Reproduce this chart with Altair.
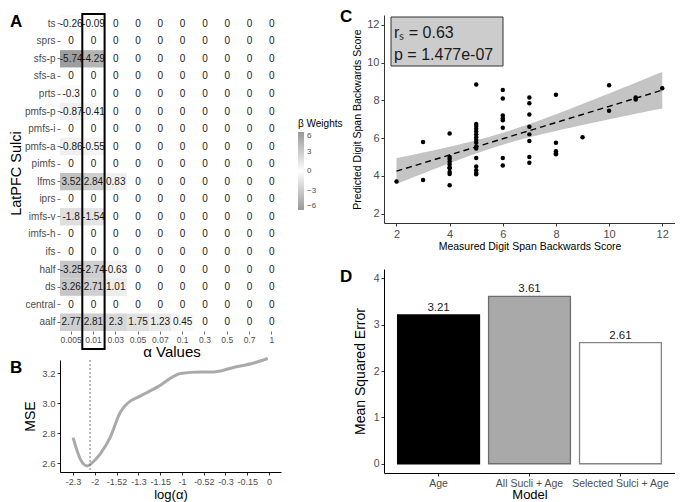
import json
import altair as alt
import numpy as np
import pandas as pd

FONT = "Liberation Sans"
GRAY_TXT = "#4d4d4d"

# ---------------- Panel A data ----------------
alpha_values = ["0.005", "0.01", "0.03", "0.05", "0.07", "0.1", "0.3", "0.5", "0.7", "1"]
selected_alpha = "0.01"
sulci = ["ts", "sprs", "sfs-p", "sfs-a", "prts", "pmfs-p", "pmfs-i", "pmfs-a", "pimfs",
         "lfms", "iprs", "imfs-v", "imfs-h", "ifs", "half", "ds", "central", "aalf"]
beta_rows = [
    [-0.26, -0.09, 0, 0, 0, 0, 0, 0, 0, 0],
    [0, 0, 0, 0, 0, 0, 0, 0, 0, 0],
    [-5.74, -4.29, 0, 0, 0, 0, 0, 0, 0, 0],
    [0, 0, 0, 0, 0, 0, 0, 0, 0, 0],
    [-0.3, 0, 0, 0, 0, 0, 0, 0, 0, 0],
    [-0.87, -0.41, 0, 0, 0, 0, 0, 0, 0, 0],
    [0, 0, 0, 0, 0, 0, 0, 0, 0, 0],
    [-0.86, -0.55, 0, 0, 0, 0, 0, 0, 0, 0],
    [0, 0, 0, 0, 0, 0, 0, 0, 0, 0],
    [3.52, 2.84, 0.83, 0, 0, 0, 0, 0, 0, 0],
    [0, 0, 0, 0, 0, 0, 0, 0, 0, 0],
    [-1.8, -1.54, 0, 0, 0, 0, 0, 0, 0, 0],
    [0, 0, 0, 0, 0, 0, 0, 0, 0, 0],
    [0, 0, 0, 0, 0, 0, 0, 0, 0, 0],
    [-3.25, -2.74, -0.63, 0, 0, 0, 0, 0, 0, 0],
    [3.26, 2.71, 1.01, 0, 0, 0, 0, 0, 0, 0],
    [0, 0, 0, 0, 0, 0, 0, 0, 0, 0],
    [2.77, 2.81, 2.3, 1.75, 1.23, 0.45, 0, 0, 0, 0],
]

# ---------------- Panel B data ----------------
log_alpha_labels = ["-2.3", "-2", "-1.52", "-1.3", "-1.15", "-1", "-0.52", "-0.3", "-0.15", "0"]
cv_position = [0.0, 0.32, 0.66, 0.86, 1.24, 1.7, 2.17, 2.5, 3.1, 4.0, 4.5, 4.93, 5.85, 6.45, 7.37, 8.3, 8.94]
cv_mse = [2.77, 2.63, 2.58, 2.60, 2.66, 2.77, 2.94, 3.00, 3.05, 3.12, 3.17, 3.20, 3.21, 3.21, 3.24, 3.27, 3.30]
best_position = [0.78]

# ---------------- Panel C data ----------------
measured = [2, 3, 3,
            4, 4, 4, 4, 4, 4, 4, 4, 4, 4,
            5, 5, 5, 5, 5, 5, 5, 5, 5, 5, 5, 5, 5, 5, 5, 5,
            6, 6, 6, 6, 6, 6, 6, 6,
            7, 7, 7, 7, 7, 7, 7, 7,
            8, 8, 8, 8, 8,
            9, 10, 10, 11, 11, 12]
predicted = [3.7, 5.8, 3.78,
             6.25, 5.0, 4.9, 4.75, 4.6, 4.45, 4.4, 4.2, 4.1, 3.5,
             8.85, 6.75, 6.65, 6.5, 6.35, 6.2, 6.05, 5.9, 5.75, 5.55, 5.45, 4.95, 4.5, 4.3, 4.15, 4.08,
             8.55, 8.1, 7.2, 7.05, 6.95, 6.55, 4.95, 4.55,
             8.15, 7.85, 7.25, 6.6, 6.2, 5.85, 5.0, 4.7,
             8.3, 5.75, 5.3, 5.2, 5.15,
             6.05, 8.8, 7.45, 8.15, 8.05, 8.65]
stat_lines = ["rₛ = 0.63", "p = 1.477e-07"]

# ---------------- Panel D data ----------------
models = ["Age", "All Sucli + Age", "Selected Sulci + Age"]
model_mse = [3.21, 3.61, 2.61]
model_fill = ["#000000", "#a9a9a9", "#ffffff"]
model_stroke = ["#000000", "#6e6e6e", "#858585"]


def letter(ch, x, y, baseline="top"):
    return alt.Chart(pd.DataFrame({"t": [ch]})).mark_text(
        fontSize=17, fontWeight="bold", align="left", baseline=baseline, color="black"
    ).encode(text="t:N", x=alt.value(x), y=alt.value(y))


# ================= Panel A =================
rows = []
for s, vals in zip(sulci, beta_rows):
    for a, v in zip(alpha_values, vals):
        rows.append({"sulcus": s, "alpha": a, "beta": v, "label": f"{v:g}"})
dfA = pd.DataFrame(rows)

xA = alt.X("alpha:O", sort=alpha_values, title="α Values",
           axis=alt.Axis(labelAngle=0, labelFontSize=8.5, labelColor=GRAY_TXT, domain=False,
                         tickSize=3, tickColor="#777777", titleFontSize=15, titlePadding=1,
                         labelPadding=1))
yA = alt.Y("sulcus:O", sort=sulci, title="LatPFC Sulci",
           axis=alt.Axis(labelFontSize=10, labelColor=GRAY_TXT, domain=False, tickSize=3,
                         tickColor="#777777", titleFontSize=14.5, labelPadding=2, titlePadding=1))

heat = alt.Chart(dfA).mark_rect().encode(
    x=xA, y=yA,
    color=alt.Color("beta:Q",
                    scale=alt.Scale(domain=[-6, 0, 6], range=["#999999", "#ffffff", "#999999"]),
                    legend=alt.Legend(title="β Weights", orient="none", legendX=238, legendY=104,
                                      gradientLength=78, gradientThickness=6,
                                      values=[-6, -3, 0, 3, 6], labelFontSize=8,
                                      titleFontSize=10, titleFontWeight="normal",
                                      labelColor=GRAY_TXT, direction="vertical",
                                      titlePadding=3, labelOffset=3)),
)
heat_text = alt.Chart(dfA).mark_text(fontSize=10, color="#1a1a1a").encode(
    x=alt.X("alpha:O", sort=alpha_values), y=alt.Y("sulcus:O", sort=sulci), text="label:N"
)
box = alt.Chart(pd.DataFrame({"alpha": [selected_alpha]})).mark_rect(
    filled=False, stroke="black", strokeWidth=2
).encode(x=alt.X("alpha:O", sort=alpha_values), y=alt.value(-1), y2=alt.value(334))

panelA = alt.layer(heat, heat_text, box, letter("A", -50, -1)).properties(width=223, height=316)

# ================= Panel B =================
dfB = pd.DataFrame({"pos": cv_position, "mse": cv_mse})
label_expr = json.dumps(log_alpha_labels) + "[datum.value]"
xB = alt.X("pos:Q", scale=alt.Scale(domain=[-0.6, 9.55], nice=False, zero=False),
           axis=alt.Axis(values=list(range(10)), labelExpr=label_expr, title="log(α)",
                         labelFontSize=9, titleFontSize=13, labelColor=GRAY_TXT,
                         labelOverlap=False, labelBound=False, labelFlush=False,
                         tickSize=3, titlePadding=2, labelPadding=2))
lineB = alt.Chart(dfB).mark_line(color="#aaaaaa", strokeWidth=3, interpolate="monotone").encode(
    x=xB,
    y=alt.Y("mse:Q", scale=alt.Scale(domain=[2.54, 3.29], nice=False, zero=False),
            axis=alt.Axis(values=[2.6, 2.8, 3.0, 3.2], format=".1f", title="MSE",
                          labelFontSize=9.5, titleFontSize=14, labelColor=GRAY_TXT,
                          tickSize=3, titlePadding=4)),
)
ruleB = alt.Chart(pd.DataFrame({"pos": best_position})).mark_rule(
    color="#555555", strokeWidth=0.8, strokeDash=[2, 2]
).encode(x=xB)
panelB = alt.layer(lineB, ruleB, letter("B", -50, 0)).properties(width=221, height=112)

# ================= Panel C =================
xv = np.array(measured, float)
yv = np.array(predicted, float)
n = len(xv)
slope, intercept = np.polyfit(xv, yv, 1)
resid = yv - (intercept + slope * xv)
s_err = np.sqrt(np.sum(resid ** 2) / (n - 2))
sxx = np.sum((xv - xv.mean()) ** 2)
xs = np.linspace(xv.min(), xv.max(), 41)
fit = intercept + slope * xs
se = s_err * np.sqrt(1 / n + (xs - xv.mean()) ** 2 / sxx)
tcrit = 2.005
dfFit = pd.DataFrame({"x": xs, "fit": fit, "lo": fit - tcrit * se, "hi": fit + tcrit * se})
dfC = pd.DataFrame({"measured": measured, "predicted": predicted})

C_XTITLE = "Measured Digit Span Backwards Score"
C_YTITLE = "Predicted Digit Span Backwards Score"
xC = alt.X("x:Q", scale=alt.Scale(domain=[1.53, 12.48], nice=False, zero=False), title=C_XTITLE,
           axis=alt.Axis(values=[2, 4, 6, 8, 10, 12],
                         labelFontSize=11, titleFontSize=10.5, labelColor=GRAY_TXT,
                         tickSize=3, titlePadding=2, domainColor="#333333"))
yC = alt.Y("lo:Q", scale=alt.Scale(domain=[1.5, 12.53], nice=False, zero=False), title=C_YTITLE,
           axis=alt.Axis(values=[2, 4, 6, 8, 10, 12],
                         labelFontSize=11, titleFontSize=10.5, labelColor=GRAY_TXT,
                         tickSize=3, titlePadding=4, domainColor="#333333"))
band = alt.Chart(dfFit).mark_area(color="#c4c4c4", opacity=1).encode(x=xC, y=yC, y2="hi:Q")
fitline = alt.Chart(dfFit).mark_line(color="black", strokeWidth=1.4, strokeDash=[6, 4]).encode(
    x=alt.X("x:Q", title=C_XTITLE), y=alt.Y("fit:Q", title=C_YTITLE))
pts = alt.Chart(dfC).mark_circle(color="black", opacity=1, size=20).encode(
    x=alt.X("measured:Q", title=C_XTITLE), y=alt.Y("predicted:Q", title=C_YTITLE))
statbox = alt.Chart(pd.DataFrame({"k": [0]})).mark_rect(
    fill="#cccccc", stroke="#333333", strokeWidth=1
).encode(x=alt.value(7), x2=alt.value(119), y=alt.value(2), y2=alt.value(51))
stattext = alt.Chart(pd.DataFrame({"t": stat_lines, "yy": [18, 40]})).mark_text(
    fontSize=16, align="left", baseline="middle", color="#1a1a1a"
).encode(text="t:N", x=alt.value(10), y=alt.Y("yy:Q", scale=None))
panelC = alt.layer(band, fitline, pts, statbox, stattext, letter("C", -44, -6)).properties(
    width=291, height=208)

# ================= Panel D =================
dfD = pd.DataFrame({"model": models, "mse": model_mse, "label": [f"{v:.2f}" for v in model_mse]})
xD = alt.X("model:N", sort=models, title="Model",
           scale=alt.Scale(paddingInner=0.1, paddingOuter=0.15),
           axis=alt.Axis(labelAngle=0, labelFontSize=10.5, titleFontSize=13, labelColor=GRAY_TXT,
                         tickSize=3, titlePadding=0, labelPadding=2))
yD = alt.Y("mse:Q", scale=alt.Scale(domain=[-0.2, 4.2], nice=False), title="Mean Squared Error",
           axis=alt.Axis(values=[0, 1, 2, 3, 4], labelFontSize=10.5, titleFontSize=14,
                         labelColor=GRAY_TXT, tickSize=3, titlePadding=6))
bars = alt.Chart(dfD).mark_bar(strokeWidth=1.3).encode(
    x=xD, y=yD,
    fill=alt.Fill("model:N", scale=alt.Scale(domain=models, range=model_fill), legend=None),
    stroke=alt.Stroke("model:N", scale=alt.Scale(domain=models, range=model_stroke), legend=None),
)
bar_text = alt.Chart(dfD).mark_text(fontSize=11.5, dy=-7, color="#1a1a1a").encode(
    x=alt.X("model:N", sort=models), y="mse:Q", text="label:N")
panelD = alt.layer(bars, bar_text, letter("D", -44, 8, "middle")).properties(width=291, height=204)

left = alt.concat(panelA, panelB, columns=1, spacing=-10)
right = alt.concat(panelC, panelD, columns=1, spacing=16)

chart = alt.hconcat(left, right, spacing=56).properties(padding=0).configure(
    font=FONT
).configure_view(stroke=None).configure_axis(
    grid=False, domainColor="black", tickColor="#333333", titleColor="black",
    titleFontWeight="normal", labelFont=FONT, titleFont=FONT
).configure_legend(labelFont=FONT, titleFont=FONT)

chart.save("out.html", embed_options={"renderer": "svg", "actions": False})
